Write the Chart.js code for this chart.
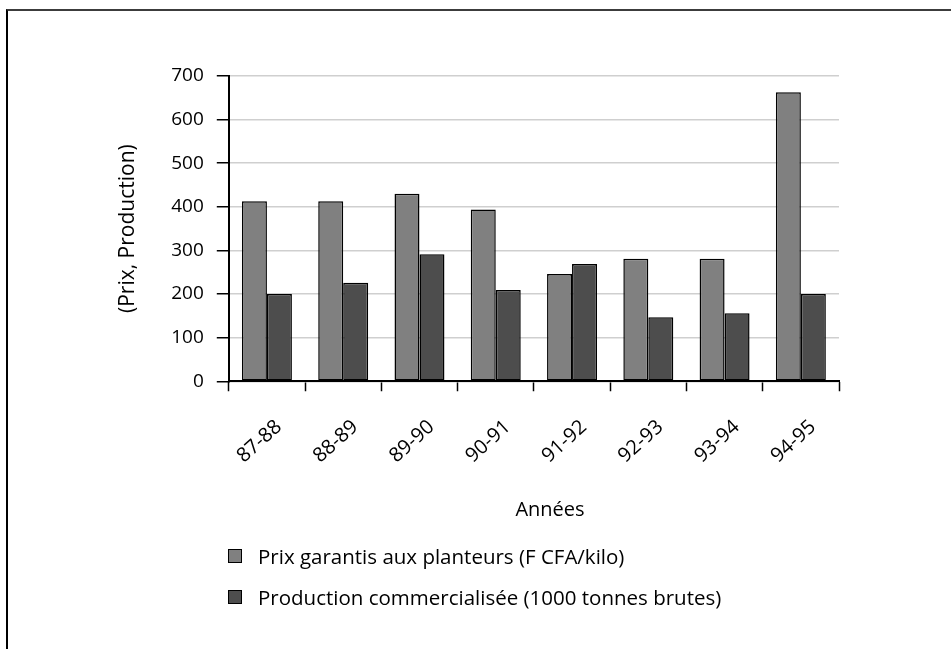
<!DOCTYPE html>
<html lang="fr">
<head>
<meta charset="utf-8">
<title>Prix garantis et production commercialisée</title>
<script src="https://cdn.jsdelivr.net/npm/chart.js@4/dist/chart.umd.min.js"></script>
<style>
  html, body { margin: 0; padding: 0; background: #fff; overflow: hidden; }
  body { width: 951px; height: 649px; position: relative; font-family: 'Open Sans', sans-serif; }
  #frame {
    position: absolute; left: 6px; top: 9px; width: 980px; height: 700px;
    border-top: 2px solid #3c3c3c; border-left: 2px solid #000; box-sizing: border-box;
    pointer-events: none;
  }
  #chart { position: absolute; left: 0; top: 0; }
  #xtitle {
    position: absolute; left: 450px; top: 496px; width: 200px; text-align: center;
    font-size: 20px; line-height: 26px; color: #000;
  }
  #legend {
    position: absolute; left: 228px; top: 543px; margin: 0; padding: 0; list-style: none;
    font-size: 20.5px; color: #000;
  }
  #legend li { display: flex; align-items: center; height: 26px; margin-bottom: 15px; white-space: nowrap; }
  #legend .box {
    width: 14px; height: 14px; box-sizing: border-box; border: 1.5px solid #000; margin-right: 16px; flex: none;
  }
</style>
</head>
<body>
<div id="frame"></div>
<canvas id="chart" width="951" height="649"></canvas>
<div id="xtitle">Années</div>
<ul id="legend"></ul>
<script>
// Campagnes agricoles
const years = ['87-88', '88-89', '89-90', '90-91', '91-92', '92-93', '93-94', '94-95'];
// Prix garantis aux planteurs (F CFA/kilo)
const prix = [413, 413, 430, 394, 246, 281, 281, 663];
// Production commercialisée (1000 tonnes brutes)
const production = [200, 226, 291, 209, 269, 147, 156, 200];
// Graduations de l'axe vertical
const yTicks = [0, 100, 200, 300, 400, 500, 600, 700];

const seriesNames = [
  'Prix garantis aux planteurs (F CFA/kilo)',
  'Production commercialisée (1000 tonnes brutes)'
];
const seriesColors = ['#808080', '#4d4d4d'];

Chart.defaults.font.family = "'Open Sans', sans-serif";
Chart.defaults.font.size = 19;
Chart.defaults.color = '#000';

// Légende HTML en colonne, construite à partir des jeux de données
const htmlLegend = {
  id: 'htmlLegend',
  afterUpdate(chart) {
    const ul = document.getElementById('legend');
    ul.innerHTML = '';
    const items = chart.options.plugins.legend.labels.generateLabels(chart);
    items.forEach(item => {
      const li = document.createElement('li');
      const box = document.createElement('span');
      box.className = 'box';
      box.style.background = item.fillStyle;
      const txt = document.createElement('span');
      txt.textContent = item.text;
      li.appendChild(box);
      li.appendChild(txt);
      ul.appendChild(li);
    });
  }
};

new Chart(document.getElementById('chart'), {
  type: 'bar',
  data: {
    labels: years,
    datasets: [
      { label: seriesNames[0], data: prix, backgroundColor: seriesColors[0],
        borderColor: '#000', borderWidth: 1.5, borderSkipped: false },
      { label: seriesNames[1], data: production, backgroundColor: seriesColors[1],
        borderColor: '#000', borderWidth: 1.5, borderSkipped: false }
    ]
  },
  options: {
    responsive: false,
    animation: false,
    devicePixelRatio: 1,
    layout: { padding: { left: 100, right: 112, top: 76, bottom: 157 } },
    datasets: { bar: { categoryPercentage: 0.655, barPercentage: 1 } },
    plugins: {
      legend: { display: false },
      tooltip: { enabled: false },
      title: { display: false }
    },
    scales: {
      x: {
        grid: {
          display: true, drawOnChartArea: false, drawTicks: true,
          tickLength: 10, tickColor: '#000', tickWidth: 1.5, offset: true
        },
        border: { display: true, color: '#000', width: 2 },
        ticks: { font: { size: 20 }, minRotation: 42, maxRotation: 42, padding: 24, labelOffset: 12, autoSkip: false }
      },
      y: {
        min: 0, max: 700,
        afterBuildTicks(scale) { scale.ticks = yTicks.map(v => ({ value: v })); },
        grid: {
          color: '#cfcfcf', lineWidth: 1.5, drawTicks: true,
          tickLength: 12, tickColor: '#000', tickWidth: 1.5
        },
        border: { display: true, color: '#000', width: 2 },
        ticks: { padding: 13 },
        title: { display: true, text: '(Prix, Production)', font: { size: 21 }, padding: { top: 15, bottom: 18 } }
      }
    }
  },
  plugins: [htmlLegend]
});
</script>
</body>
</html>
